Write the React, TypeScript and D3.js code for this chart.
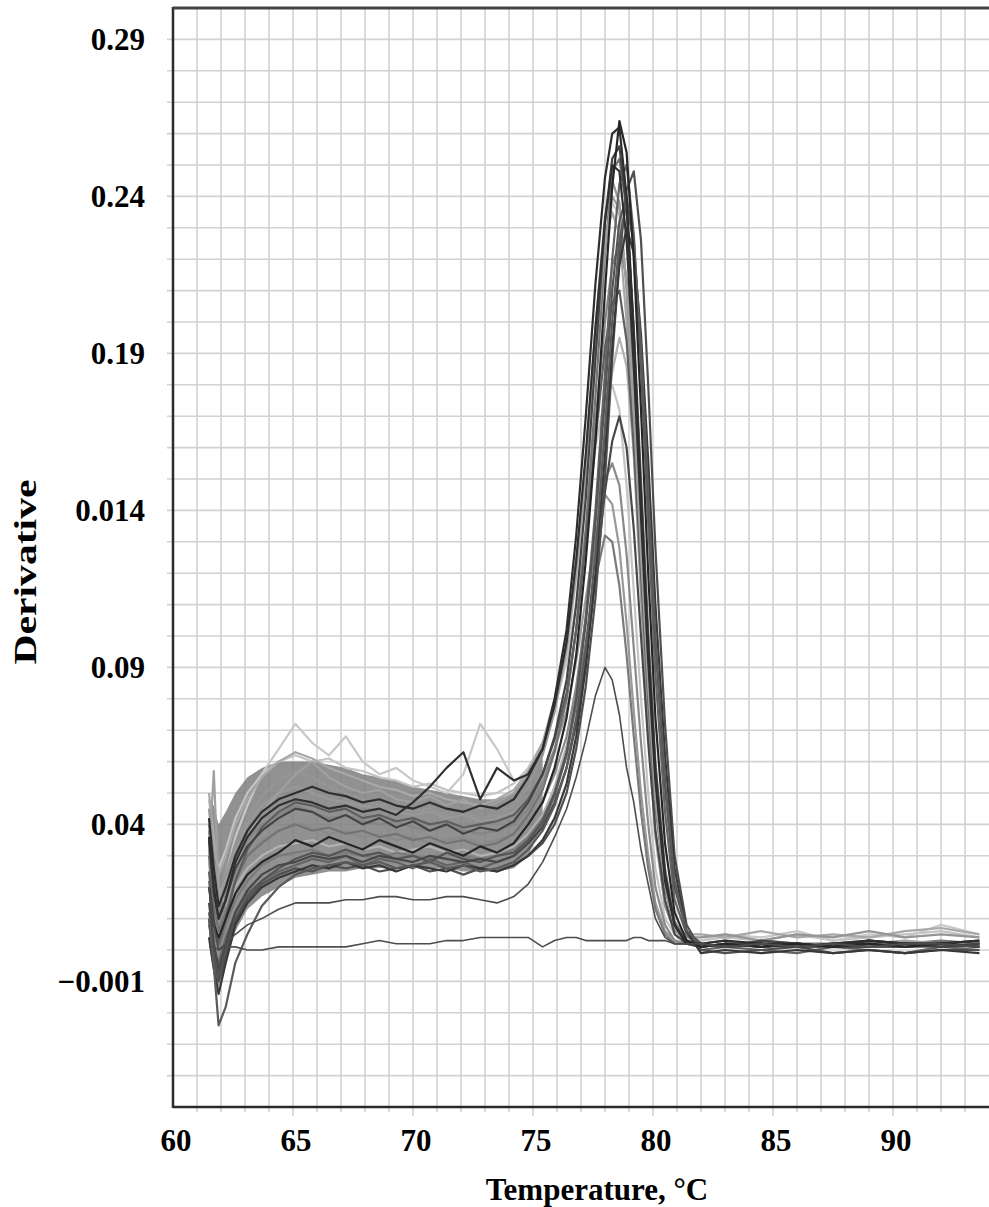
import * as d3 from "d3";

// temperature grid the curves were read on (°C)
const TEMPS = [
  61.5, 61.7, 61.9, 62.2, 62.6, 63.1, 63.7, 64.4, 65.1, 65.8,
  66.5, 67.2, 67.9, 68.6, 69.3, 70.0, 70.7, 71.4, 72.1, 72.8,
  73.5, 74.2, 74.8, 75.4, 75.9, 76.4, 76.8, 77.2, 77.6, 78.0,
  78.3, 78.6, 78.9, 79.2, 79.5, 79.8, 80.1, 80.5, 80.9, 81.4,
  82.0, 83.0, 84.5, 86.0, 87.5, 89.0, 90.5, 92.0, 93.6,
];

// melt-curve derivatives, in units of 0.001
const C01 = [20, 8, 4, 10, 18, 24, 28, 31, 35, 33, 36, 34, 32, 35, 33, 31, 34, 32, 30, 33, 31, 34, 40, 47, 58, 74, 94, 124, 162, 210, 243, 264, 254, 220, 172, 120, 74, 34, 12, 3, 1, 2, 1, 2, 1, 2, 1, 2, 1];
const C02 = [35, 18, 10, 16, 26, 33, 38, 42, 45, 44, 41, 43, 40, 42, 39, 41, 38, 40, 37, 39, 38, 41, 47, 56, 68, 86, 110, 144, 188, 232, 252, 256, 236, 196, 146, 98, 58, 24, 8, 2, 2, 1, 3, 2, 1, 3, 2, 1, 2];
const C03 = [8, 0, -4, 4, 12, 18, 22, 25, 27, 29, 28, 30, 27, 29, 28, 26, 29, 27, 28, 26, 28, 30, 34, 40, 49, 62, 80, 106, 140, 184, 220, 244, 250, 228, 186, 136, 88, 44, 16, 5, 0, 1, 0, -1, 1, 0, -1, 1, 0];
const C04 = [45, 30, 18, 24, 34, 42, 49, 54, 57, 55, 52, 50, 48, 46, 47, 44, 45, 43, 44, 42, 43, 46, 52, 62, 76, 96, 122, 156, 198, 234, 245, 238, 210, 164, 116, 72, 38, 14, 6, 4, 4, 5, 3, 5, 4, 6, 4, 5, 4];
const C05 = [12, 2, -8, 0, 10, 17, 22, 26, 29, 31, 30, 32, 30, 31, 29, 30, 28, 31, 29, 28, 30, 31, 35, 41, 50, 63, 80, 104, 136, 176, 210, 232, 240, 224, 190, 144, 98, 52, 20, 6, 2, 1, 2, 2, 1, 2, 1, 2, 1];
const C06 = [30, 14, 6, 12, 22, 30, 34, 38, 40, 38, 39, 37, 38, 36, 37, 35, 36, 34, 35, 33, 34, 37, 43, 51, 63, 80, 102, 134, 176, 222, 248, 252, 236, 198, 150, 102, 60, 26, 9, 3, 2, 3, 1, 2, 2, 1, 2, 3, 2];
const C07 = [50, 36, 24, 30, 40, 48, 55, 60, 63, 61, 58, 56, 54, 52, 51, 49, 50, 48, 47, 46, 48, 51, 57, 66, 80, 98, 124, 156, 194, 226, 235, 228, 200, 158, 112, 70, 36, 14, 7, 5, 5, 4, 6, 4, 5, 4, 6, 7, 5];
const C08 = [4, -6, -14, -4, 8, 15, 20, 23, 25, 27, 26, 28, 26, 27, 25, 27, 26, 25, 27, 26, 25, 27, 30, 35, 42, 53, 68, 90, 120, 158, 192, 218, 230, 222, 196, 156, 110, 62, 26, 6, -1, 0, -1, 0, -1, 0, -1, 0, -1];
const C09 = [38, 22, 12, 18, 28, 35, 40, 43, 46, 44, 42, 43, 41, 40, 41, 39, 38, 40, 38, 37, 38, 40, 45, 53, 64, 80, 102, 132, 168, 200, 218, 225, 214, 182, 138, 94, 56, 24, 8, 3, 1, 2, 2, 1, 2, 3, 1, 2, 1];
const C10 = [25, 10, 2, 10, 22, 32, 39, 44, 47, 46, 44, 45, 42, 43, 41, 42, 40, 41, 39, 40, 41, 43, 48, 56, 67, 82, 102, 130, 162, 192, 206, 210, 194, 160, 120, 80, 46, 20, 7, 2, 2, 1, 2, 1, 1, 2, 2, 1, 2];
const C11 = [28, 12, 4, 11, 20, 26, 30, 33, 34, 35, 33, 34, 32, 33, 31, 32, 33, 31, 32, 30, 31, 33, 37, 43, 52, 65, 82, 106, 136, 166, 184, 195, 186, 158, 120, 82, 48, 20, 7, 2, 1, 2, 1, 1, 2, 1, 2, 1, 1];
const C12 = [48, 34, 26, 32, 42, 50, 56, 60, 62, 60, 61, 58, 57, 55, 54, 52, 53, 51, 50, 49, 50, 53, 58, 66, 77, 92, 110, 134, 160, 176, 180, 172, 148, 114, 80, 50, 26, 10, 5, 3, 3, 4, 3, 5, 3, 4, 5, 6, 4];
const C13 = [15, 2, -6, 2, 12, 19, 24, 27, 28, 30, 29, 30, 28, 30, 29, 28, 30, 29, 28, 29, 28, 30, 34, 39, 47, 58, 72, 92, 118, 146, 162, 170, 160, 134, 100, 66, 38, 16, 5, 2, 1, 2, 1, 2, 1, 1, 2, 1, 2];
const C14 = [32, 16, 8, 14, 24, 30, 35, 38, 40, 39, 37, 38, 36, 37, 35, 36, 34, 35, 36, 34, 35, 37, 41, 47, 56, 68, 84, 106, 130, 150, 155, 148, 126, 96, 66, 40, 20, 8, 3, 2, 1, 2, 2, 1, 2, 1, 2, 2, 1];
const C15 = [40, 26, 16, 22, 32, 40, 46, 50, 52, 50, 48, 47, 46, 45, 44, 43, 44, 42, 43, 41, 42, 44, 48, 55, 64, 76, 92, 112, 132, 145, 142, 128, 104, 76, 50, 30, 15, 6, 3, 2, 2, 1, 2, 1, 2, 2, 1, 2, 2];
const C16 = [22, 6, 0, 8, 16, 22, 27, 30, 31, 32, 30, 31, 30, 29, 31, 30, 29, 31, 30, 29, 30, 32, 36, 42, 50, 62, 78, 98, 118, 132, 130, 116, 94, 68, 44, 26, 13, 5, 2, 2, 1, 2, 1, 2, 1, 2, 1, 1, 2];
const C17 = [42, 26, 14, 20, 30, 38, 44, 48, 50, 52, 50, 49, 47, 48, 46, 45, 47, 45, 44, 46, 45, 48, 55, 64, 80, 102, 132, 170, 212, 246, 260, 262, 240, 196, 144, 96, 56, 24, 8, 2, 2, 3, 2, 1, 2, 3, 2, 2, 3];
const C18 = [10, -2, -10, -2, 9, 16, 21, 24, 26, 25, 27, 26, 27, 25, 26, 27, 25, 26, 24, 26, 25, 27, 30, 34, 40, 50, 64, 84, 112, 150, 188, 220, 242, 248, 226, 180, 128, 72, 30, 8, 0, -1, 0, 1, -1, 0, -1, 0, 0];
const SPIKE = [30, 57, 20, 14, 26, 36, 44, 50, 56, 60, 55, 52, 50, 51, 48, 47, 49, 46, 48, 45, 47, 50, 56, 65, 78, 96, 120, 152, 190, 224, 240, 236, 212, 172, 126, 84, 48, 20, 7, 2, 2, 1, 3, 2, 1, 2, 3, 2, 2];
const DIP = [10, -5, -24, -18, -4, 5, 14, 20, 24, 26, 27, 28, 27, 28, 26, 27, 28, 26, 27, 25, 26, 28, 32, 38, 46, 58, 74, 96, 126, 166, 200, 226, 238, 226, 192, 146, 100, 54, 22, 6, 2, 1, 2, 1, 2, 1, 1, 2, 1];
const BUMP_LIGHT = [40, 24, 16, 24, 36, 46, 56, 64, 72, 66, 62, 68, 60, 56, 58, 54, 52, 50, 56, 72, 64, 54, 55, 64, 76, 94, 118, 150, 188, 222, 238, 234, 212, 174, 126, 86, 50, 22, 9, 4, 3, 5, 4, 6, 3, 5, 4, 8, 5];
const BUMP_DARK = [36, 20, 10, 16, 28, 36, 42, 46, 48, 47, 45, 46, 44, 45, 43, 47, 52, 58, 63, 48, 58, 54, 56, 64, 78, 98, 124, 158, 198, 232, 250, 248, 226, 186, 138, 92, 54, 22, 8, 2, 2, 1, 2, 2, 1, 3, 2, 2, 3];
const LOW_PEAK = [20, 8, 0, 2, 5, 8, 10, 13, 15, 15, 15, 16, 16, 17, 17, 16, 16, 17, 17, 16, 15, 17, 21, 28, 36, 45, 55, 67, 81, 90, 86, 75, 58, 47, 32, 21, 10, 4, 2, 2, 2, 1, 2, 1, 2, 1, 2, 2, 1];
const FLAT = [1, 1, 0, 1, 1, 0, 0, 1, 1, 1, 1, 1, 2, 3, 2, 2, 2, 3, 3, 4, 4, 4, 4, 1, 3, 4, 4, 3, 3, 3, 3, 3, 3, 4, 4, 3, 3, 3, 2, 2, 2, 1, 2, 1, 2, 1, 2, 2, 1];

// envelope of the dense plateau band (first 24 temperatures), units of 0.001
const BAND_UPPER = [48, 46, 40, 44, 50, 55, 58, 60, 60, 60, 59, 58, 56, 55, 54, 52, 51, 50, 49, 48, 48, 50, 56, 66];
const BAND_LOWER = [2, -8, -12, -4, 6, 13, 17, 20, 23, 24, 25, 25, 26, 26, 26, 26, 26, 26, 25, 25, 25, 26, 30, 40];

const SERIES = [C12, BUMP_LIGHT, C07, C11, C04, C15, C14, C09, C06, C16, C10, SPIKE, C03, C05, C13, C02, C18, C08, DIP, BUMP_DARK, C17, C01];
const SHADES = ["#c4c4c4", "#c8c8c8", "#a8a8a8", "#b2b2b2", "#959595", "#999999", "#8a8a8a", "#858585", "#747474", "#7a7a7a", "#5e5e5e", "#a0a0a0", "#646464", "#555555", "#484848", "#444444", "#505050", "#383838", "#5a5a5a", "#303030", "#2e2e2e", "#262626"];

const X_TICKS = [60, 65, 70, 75, 80, 85, 90];
const Y_TICKS = [0.29, 0.24, 0.19, 0.14, 0.09, 0.04, -0.01];
const Y_TICK_LABELS = ["0.29", "0.24", "0.19", "0.014", "0.09", "0.04", "\u22120.001"];

const W = 989;
const H = 1207;
const FONT = "'Liberation Serif', 'Times New Roman', serif";

export default function App() {
  const x = d3.scaleLinear().domain([60, 94]).range([173, 989]);
  const y = d3.scaleLinear().domain([-0.05, 0.3]).range([1107, 8]);
  const [x0, x1] = x.range();
  const [y0, y1] = y.range();

  const line = d3
    .line<number>()
    .x((_, i) => x(TEMPS[i]))
    .y((v) => y(v / 1000));

  const band = d3
    .area<number>()
    .x((_, i) => x(TEMPS[i]))
    .y0((_, i) => y(BAND_LOWER[i] / 1000))
    .y1((v) => y(v / 1000));

  const vGrid = d3.range(61, 94);
  const hGrid = d3.range(-4, 30).map((k) => k / 100);

  return (
    <svg width={W} height={H} style={{ position: "absolute", left: 0, top: 0, background: "#fff" }}>
      {/* grid */}
      <g stroke="#d2d2d2" strokeWidth={1.6}>
        {vGrid.map((t) => (
          <line key={"v" + t} x1={x(t)} x2={x(t)} y1={y1} y2={y0 + (t % 5 === 0 ? 9 : 5)} />
        ))}
        {hGrid.map((v) => (
          <line key={"h" + v} x1={x0 - 6} x2={x1} y1={y(v)} y2={y(v)} />
        ))}
      </g>

      {/* plateau band */}
      <path d={band(BAND_UPPER) ?? ""} fill="#7e7e7e" opacity={0.85} />

      {/* curves */}
      <g fill="none" strokeLinejoin="round">
        {SERIES.map((s, i) => (
          <path key={i} d={line(s) ?? ""} stroke={SHADES[i]} strokeWidth={2.2} />
        ))}
        <path d={line(LOW_PEAK) ?? ""} stroke="#4d4d4d" strokeWidth={1.6} />
        <path d={line(FLAT) ?? ""} stroke="#4d4d4d" strokeWidth={1.6} />
      </g>

      {/* frame */}
      <g stroke="#2b2b2b" strokeWidth={2.5}>
        <line x1={x0} x2={x0} y1={y1 - 1} y2={y0 + 1} />
        <line x1={x0} x2={x1} y1={y0} y2={y0} />
        <line x1={x0} x2={x1} y1={y1} y2={y1} strokeWidth={3} stroke="#444" />
      </g>

      {/* tick labels */}
      <g fontFamily={FONT} fontWeight="bold" fontSize={31} fill="#000">
        {Y_TICKS.map((v, i) => (
          <text key={v} x={145} y={y(v)} dy="0.35em" textAnchor="end">
            {Y_TICK_LABELS[i]}
          </text>
        ))}
        {X_TICKS.map((t) => (
          <text key={t} x={x(t) + 3} y={1151} textAnchor="middle">
            {t}
          </text>
        ))}
        <text x={597} y={1200} textAnchor="middle">
          Temperature, °C
        </text>
        <text
          transform="translate(36,572) rotate(-90)"
          textAnchor="middle"
          textLength={185}
          lengthAdjust="spacingAndGlyphs"
        >
          Derivative
        </text>
      </g>
    </svg>
  );
}
